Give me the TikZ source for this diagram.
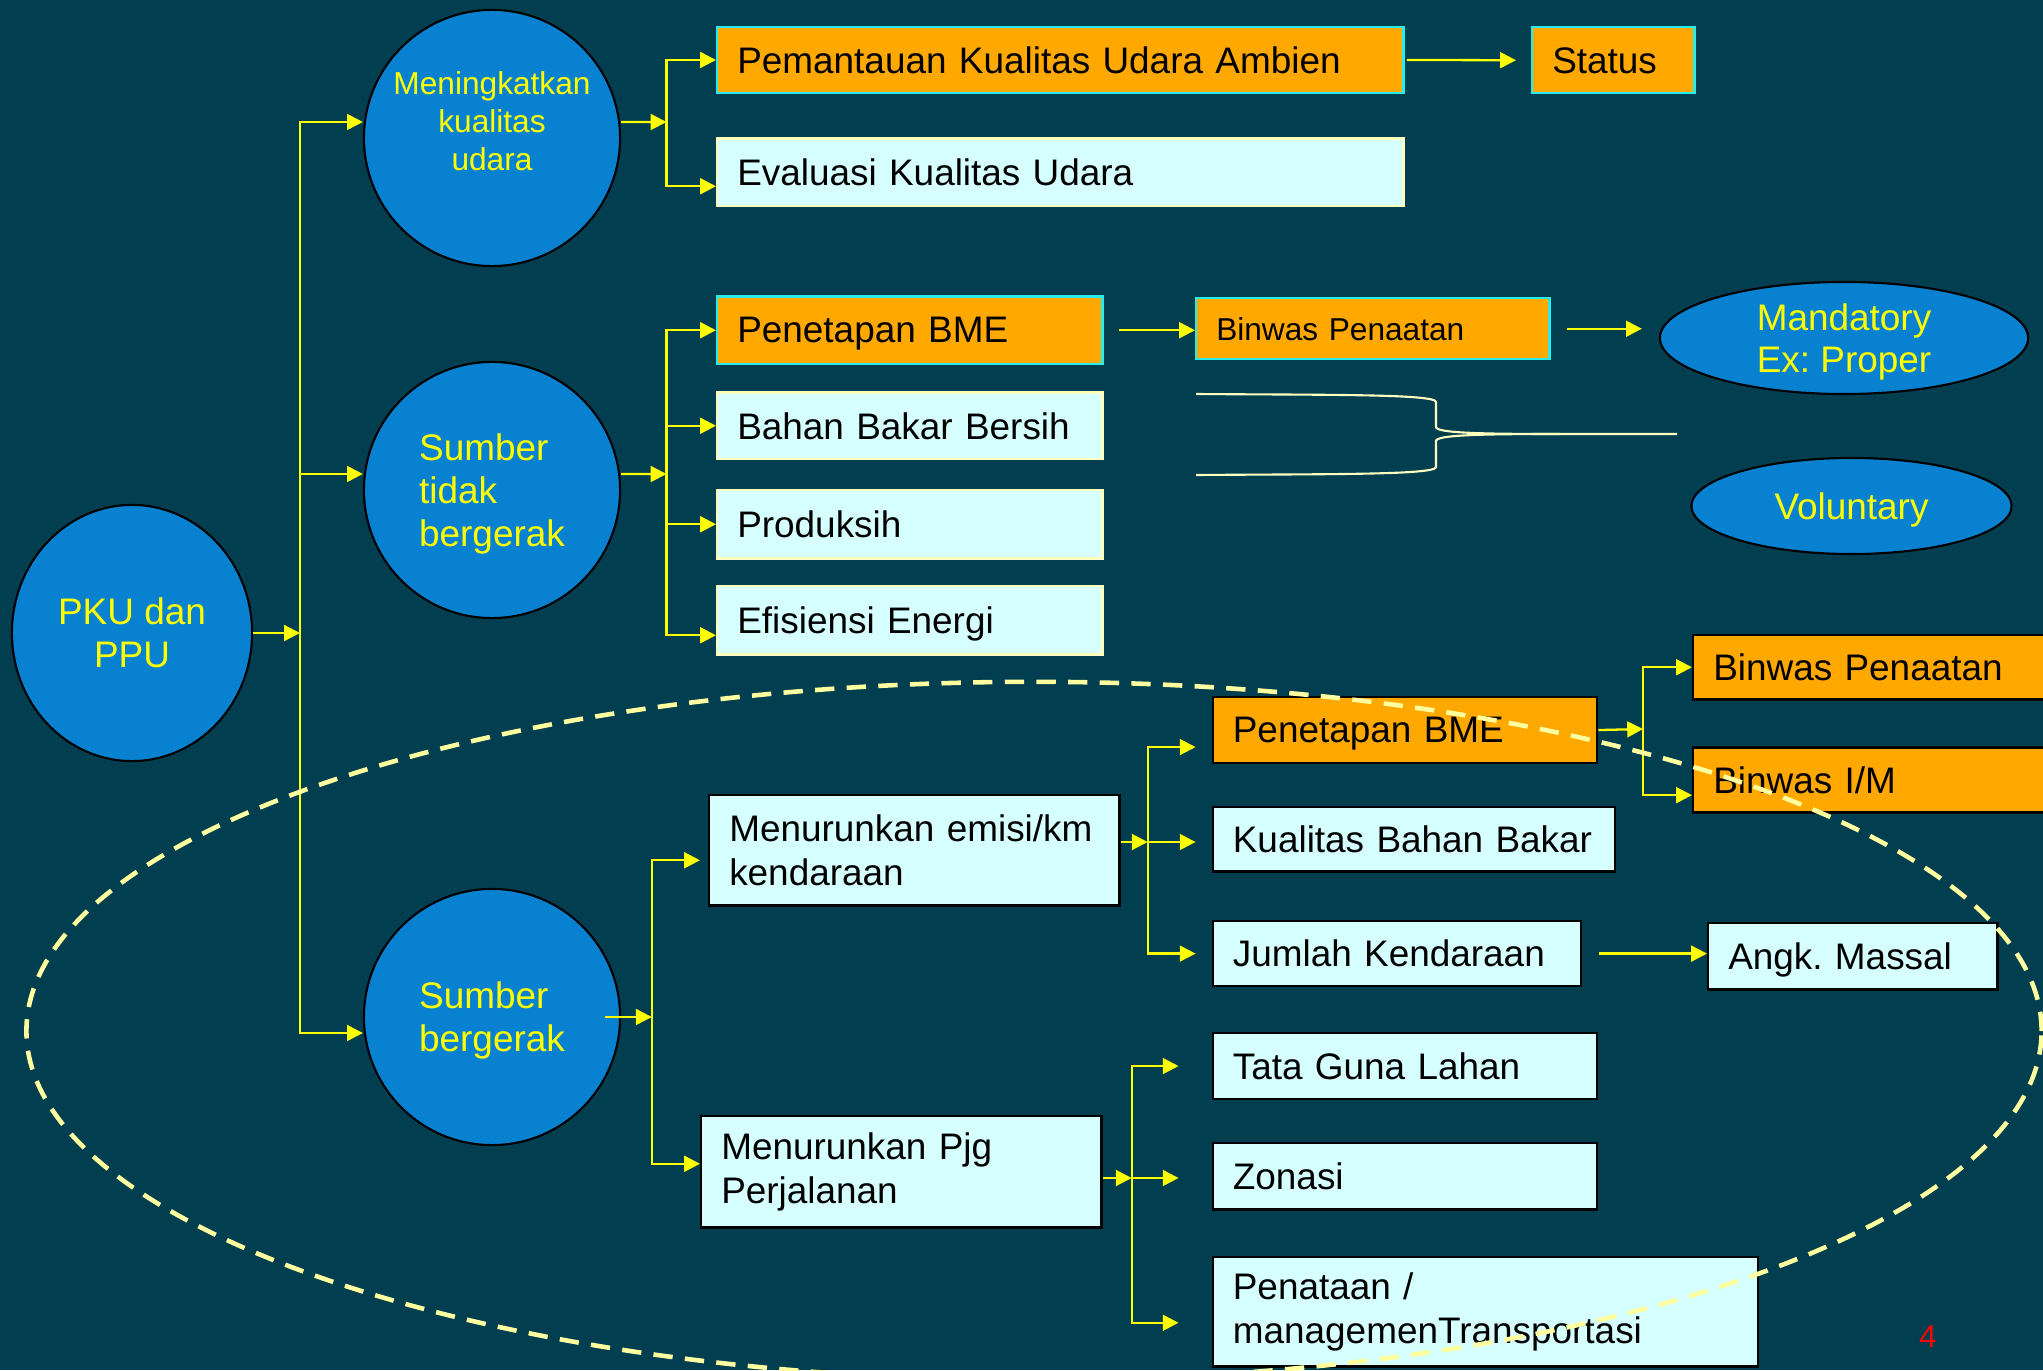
\documentclass[tikz,border=0pt]{standalone}
\usepackage{fontspec}
\setmainfont{Liberation Sans}
\usetikzlibrary{arrows.meta,shapes.geometric}
\frenchspacing

\definecolor{bgteal}{RGB}{0,62,80}
\definecolor{circblue}{RGB}{8,130,208}
\definecolor{boxorange}{RGB}{255,168,0}
\definecolor{boxcyan}{RGB}{214,255,255}
\definecolor{edgecyan}{RGB}{40,235,235}
\definecolor{edgecream}{RGB}{255,255,190}
\definecolor{arrowyellow}{RGB}{255,255,0}
\definecolor{dashcream}{RGB}{255,255,160}

\begin{document}
\begin{tikzpicture}[x=0.01cm, y=-0.01cm,
  circ/.style={circle, draw=black, line width=0.6pt, fill=circblue, minimum size=2.56cm,
    inner sep=0pt, text=arrowyellow, font=\fontsize{10.5}{12.2}\selectfont, align=left,
    text depth=0pt},
  oval/.style={ellipse, draw=black, line width=0.6pt, fill=circblue, inner sep=0pt,
    text=arrowyellow, font=\fontsize{10.5}{11.8}\selectfont, align=center, text depth=0pt},
  box/.style={rectangle, anchor=north west, inner xsep=0.2cm, inner ysep=0pt,
    line width=0.7pt, align=left, font=\fontsize{10.5}{12.4}\selectfont},
  obox/.style={box, fill=boxorange, draw=edgecyan, text depth=0pt},
  lbox/.style={box, fill=boxcyan, draw=edgecream, text depth=0pt},
  obox2/.style={box, fill=boxorange, draw=black, text depth=0pt},
  lbox2/.style={box, fill=boxcyan, draw=black, text depth=0pt},
  tallbox/.style={box, fill=boxcyan, draw=black},
  arr/.style={-{Triangle[length=4.5pt,width=4.5pt]}, line width=0.65pt, arrowyellow},
  bracepath/.style={draw=edgecream, line width=0.6pt},
  dashring/.style={draw=dashcream, line width=1.3pt, dash pattern=on 5.5pt off 3.5pt}
]

% Page
\useasboundingbox (0,0) rectangle (2043,1370);
\clip (0,0) rectangle (2043,1370);
\fill[bgteal] (0,0) rectangle (2043,1370);

% Circles
\node[circ, ellipse, minimum width=2.40cm, minimum height=2.56cm, align=center] (pku) at (132,633) {PKU dan\\PPU};
\node[circ] (meningkat) at (492,138) {};
\node[text=arrowyellow, font=\fontsize{9}{10.7}\selectfont, align=center, text depth=0pt] (meningkatlbl)
  at ([yshift=0.17cm]meningkat.center) {Meningkatkan\\kualitas\\udara};
\node[circ] (tidak) at (492,490) {Sumber\\tidak\\bergerak};
\node[circ] (bergerak) at (492,1017) {Sumber\\bergerak};

% Upper boxes
\node[obox, minimum width=6.86cm, minimum height=0.655cm, text width=6.46cm] (ambien) at (716,26) {Pemantauan Kualitas Udara Ambien};
\node[obox, minimum width=1.62cm, minimum height=0.66cm, text width=1.22cm] (status) at (1531,26) {Status};
\node[lbox, minimum width=6.86cm, minimum height=0.67cm, text width=6.46cm] (evaluasi) at (716,137.5) {Evaluasi Kualitas Udara};
\node[obox, minimum width=3.85cm, minimum height=0.67cm, text width=3.45cm] (bme1) at (716,295.5) {Penetapan BME};
\node[obox, minimum width=3.53cm, minimum height=0.61cm, text width=3.13cm,
  font=\fontsize{9}{10.5}\selectfont] (binwas1) at (1195,297) {Binwas Penaatan};
\node[lbox, minimum width=3.85cm, minimum height=0.66cm, text width=3.45cm] (bahan) at (716,391.5) {Bahan Bakar Bersih};
\node[lbox, minimum width=3.85cm, minimum height=0.68cm, text width=3.45cm] (produksi) at (716,489) {Produksih};
\node[lbox, minimum width=3.85cm, minimum height=0.68cm, text width=3.45cm] (efisiensi) at (716,585) {Efisiensi Energi};

% Ovals
\node[oval, minimum width=3.68cm, minimum height=1.12cm] (mandatory) at (1844,338) {Mandatory\\Ex: Proper};
\node[oval, minimum width=3.20cm, minimum height=0.96cm] (voluntary) at (1851.5,506) {Voluntary};

% Lower boxes
\node[tallbox, minimum width=4.08cm, minimum height=1.10cm, text width=3.70cm] (emisi) at (708,794) {Menurunkan emisi/km\\kendaraan};
\node[tallbox, minimum width=4.00cm, minimum height=1.11cm, text width=3.60cm] (pjg) at (700,1115) {Menurunkan Pjg\\Perjalanan};
\node[obox2, minimum width=3.84cm, minimum height=0.656cm, text width=3.44cm] (bme2) at (1211.6,696) {Penetapan BME};
\node[lbox2, minimum width=4.00cm, minimum height=0.644cm, text width=3.62cm] (kualitas) at (1211.6,806) {Kualitas Bahan Bakar};
\node[lbox2, minimum width=3.68cm, minimum height=0.647cm, text width=3.28cm] (jumlah) at (1211.6,920) {Jumlah Kendaraan};
\node[lbox2, minimum width=2.89cm, minimum height=0.66cm, text width=2.49cm] (angk) at (1707,922) {Angk. Massal};
\node[lbox2, minimum width=3.84cm, minimum height=0.656cm, text width=3.44cm] (tata) at (1211.6,1032) {Tata Guna Lahan};
\node[lbox2, minimum width=3.84cm, minimum height=0.66cm, text width=3.44cm] (zonasi) at (1211.6,1142) {Zonasi};
\node[tallbox, minimum width=5.45cm, minimum height=1.09cm, text width=5.05cm] (penataan) at (1211.6,1256) {Penataan /\\managemenTransportasi};
\node[obox2, minimum width=3.68cm, minimum height=0.64cm, text width=3.28cm] (binwas2) at (1692,634) {Binwas Penaatan};
\node[obox2, minimum width=3.68cm, minimum height=0.65cm, text width=3.28cm] (binwasim) at (1692,746.4) {Binwas I/M};

% Junctions
\coordinate (jt) at (300,633);
\coordinate (ja) at (666.5,122);
\coordinate (jb) at (666.5,474);
\coordinate (jd) at (651.8,1017);
\coordinate (je) at (1147.7,842);
\coordinate (jf) at (1131.7,1178);
\coordinate (jg) at (1643,729);

% Trunk
\draw[arr] (pku.east) -- (jt);
\draw[arr] (jt) |- ([yshift=0.16cm]meningkat.west);
\draw[arr] (jt) |- ([yshift=0.16cm]tidak.west);
\draw[arr] (jt) |- ([yshift=-0.16cm]bergerak.west);

% Meningkatkan kualitas udara
\draw[arr] ([yshift=0.16cm]meningkat.east) -- (ja);
\draw[arr] (ja) |- (ambien.west);
\draw[arr] (ja) |- ([yshift=-0.14cm]evaluasi.west);
\draw[arr, shorten <=0.02cm, shorten >=0.15cm] (ambien.east) -- (status.west);

% Sumber tidak bergerak
\draw[arr] ([yshift=0.16cm]tidak.east) -- (jb);
\foreach \n in {bme1, bahan, produksi} {
  \draw[arr] (jb) |- (\n.west);
}
\draw[arr] (jb) |- ([yshift=-0.15cm]efisiensi.west);
\draw[arr, shorten <=0.15cm] (bme1.east) -- (binwas1.west |- bme1.east);
\draw[arr, shorten <=0.16cm, shorten >=0.17cm] (binwas1.east) -- (mandatory.west |- binwas1.east);
\draw[bracepath] (1196,394) .. controls (1330,395) and (1436,394) .. (1436,402) -- (1436,427)
  .. controls (1436,433) and (1480,434) .. (1560,434) -- (1677,434);
\draw[bracepath] (1196,475) .. controls (1330,474) and (1436,475) .. (1436,467) -- (1436,441)
  .. controls (1436,435) and (1480,434) .. (1560,434);

% Sumber bergerak
\draw[arr] ([xshift=-0.16cm]bergerak.east) -- (jd);
\draw[arr, shorten >=0.08cm] (jd) |- ([yshift=-0.1cm]emisi.west);
\draw[arr] (jd) |- ([yshift=0.08cm]pjg.west);

\draw[arr] (emisi.east |- je) -- (je);
\draw[arr, shorten >=0.16cm] (je) |- ([yshift=-0.17cm]bme2.west);
\draw[arr, shorten >=0.16cm] (je) -- (kualitas.west |- je);
\draw[arr, shorten >=0.16cm] (je) |- (jumlah.west);
\draw[arr, shorten <=0.165cm] (jumlah.east) -- (angk.west |- jumlah.east);

\draw[arr] (bme2.east) -- (jg);
\draw[arr] (jg) |- (binwas2.west);
\draw[arr] (jg) |- ([yshift=-0.15cm]binwasim.west);

\draw[arr] (pjg.east |- jf) -- (jf);
\draw[arr, shorten >=0.33cm] (jf) |- (tata.west);
\draw[arr, shorten >=0.33cm] (jf) -- (zonasi.west |- jf);
\draw[arr, shorten >=0.33cm] (jf) |- ([yshift=-0.11cm]penataan.west);

% Dashed ring
\draw[dashring] (1034,1031) ellipse [x radius=10.07cm, y radius=3.49cm];

\node[text=red, font=\fontsize{9}{10}\selectfont] (pagenum) at (1928,1337) {4};

\end{tikzpicture}
\end{document}
